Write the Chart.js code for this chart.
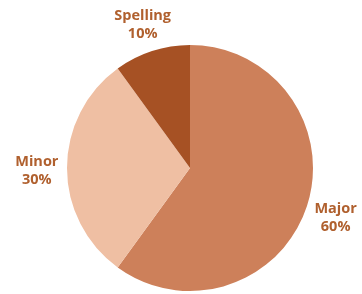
<!DOCTYPE html>
<html>
<head>
<meta charset="utf-8">
<script src="https://cdn.jsdelivr.net/npm/chart.js@4/dist/chart.umd.min.js"></script>
<style>
html,body{margin:0;padding:0;background:#fff;}
#wrap{width:362px;height:294px;position:relative;}
</style>
</head>
<body>
<div id="wrap"><canvas id="c"></canvas></div>
<script>
const categories = ["Major", "Minor", "Spelling"];
const values = [60, 30, 10];
const colors = ["#CD805A", "#EFBFA3", "#A65124"];
const labelColor = "#B0602E";

const outerLabels = {
  id: 'outerLabels',
  afterDatasetsDraw(chart) {
    const ctx = chart.ctx;
    const meta = chart.getDatasetMeta(0);
    ctx.save();
    ctx.font = "bold 14.5px 'Open Sans', sans-serif";
    ctx.fillStyle = labelColor;
    ctx.textAlign = 'center';
    ctx.textBaseline = 'middle';
    meta.data.forEach((arc, i) => {
      const p = arc.getProps(['x','y','startAngle','endAngle','outerRadius'], true);
      const mid = (p.startAngle + p.endAngle) / 2;
      const d = p.outerRadius * 1.245;
      const cx = p.x + Math.cos(mid) * d;
      const cy = p.y + Math.sin(mid) * d + 3;
      ctx.fillText(categories[i], cx, cy - 9);
      ctx.fillText(values[i] + '%', cx, cy + 9);
    });
    ctx.restore();
  }
};

new Chart(document.getElementById('c'), {
  type: 'pie',
  data: {
    labels: categories,
    datasets: [{
      data: values,
      backgroundColor: colors,
      borderWidth: 0
    }]
  },
  options: {
    responsive: true,
    maintainAspectRatio: false,
    animation: false,
    layout: { padding: { left: 67, right: 49, top: 45, bottom: 3 } },
    plugins: { legend: { display: false }, tooltip: { enabled: false } }
  },
  plugins: [outerLabels]
});
</script>
</body>
</html>
